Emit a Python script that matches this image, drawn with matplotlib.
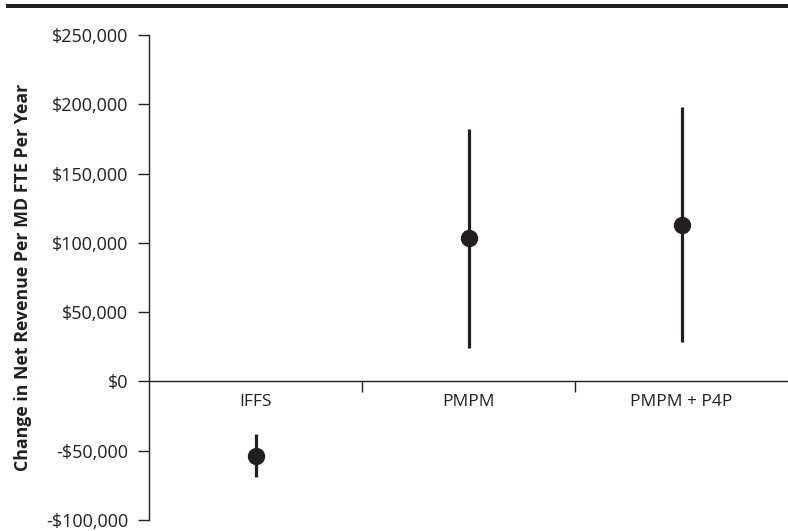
import matplotlib
matplotlib.use("Agg")
import matplotlib.pyplot as plt
from matplotlib.patches import Rectangle

categories = ["IFFS", "PMPM", "PMPM + P4P"]
estimate = [-53800, 103500, 112600]
lower = [-69200, 24300, 28300]
upper = [-37700, 182300, 198100]
y_ticks = [-100000, -50000, 0, 50000, 100000, 150000, 200000, 250000]

INK = "#231f20"
plt.rcParams["font.family"] = ["Open Sans", "DejaVu Sans"]

W, H = 788, 531
fig = plt.figure(figsize=(W / 100, H / 100), dpi=100)
ax = fig.add_axes([149 / W, 1 - 520 / H, (W - 149) / W, (520 - 35) / H])

xs = [i + 0.5 for i in range(len(categories))]
for x, est, lo, hi in zip(xs, estimate, lower, upper):
    ax.vlines(x, lo, hi, color=INK, linewidth=2.3)
    ax.plot(x, est, "o", color=INK, markersize=11.5)

# baseline at zero with category separators
ax.axhline(0, color=INK, linewidth=1.0)
ax.vlines([1, 2], -7500, 0, color=INK, linewidth=1.0)
for x, name in zip(xs, categories):
    ax.text(x, -15000, name, ha="center", va="center", fontsize=12.5, color=INK)

ax.set_xlim(0, 3)
ax.set_ylim(-100000, 250000)
ax.set_yticks(y_ticks)
ax.set_yticklabels([("-$" if v < 0 else "$") + f"{abs(v):,}" for v in y_ticks])
ax.tick_params(axis="y", direction="out", length=8, width=1.0, color=INK,
               labelcolor=INK, labelsize=13, pad=7)
ax.set_xticks([])
for s in ["top", "right", "bottom"]:
    ax.spines[s].set_visible(False)
ax.spines["left"].set_color(INK)
ax.spines["left"].set_linewidth(1.0)
ax.set_ylabel("Change in Net Revenue Per MD FTE Per Year", fontsize=12.8,
              fontweight="bold", color=INK, labelpad=10)
ax.patch.set_alpha(0)

# thick rule across the top
fig.add_artist(Rectangle((6 / W, 1 - 8 / H), (W - 6) / W, 4.5 / H,
                         transform=fig.transFigure, color=INK, lw=0))

fig.savefig("out.png", dpi=100)
